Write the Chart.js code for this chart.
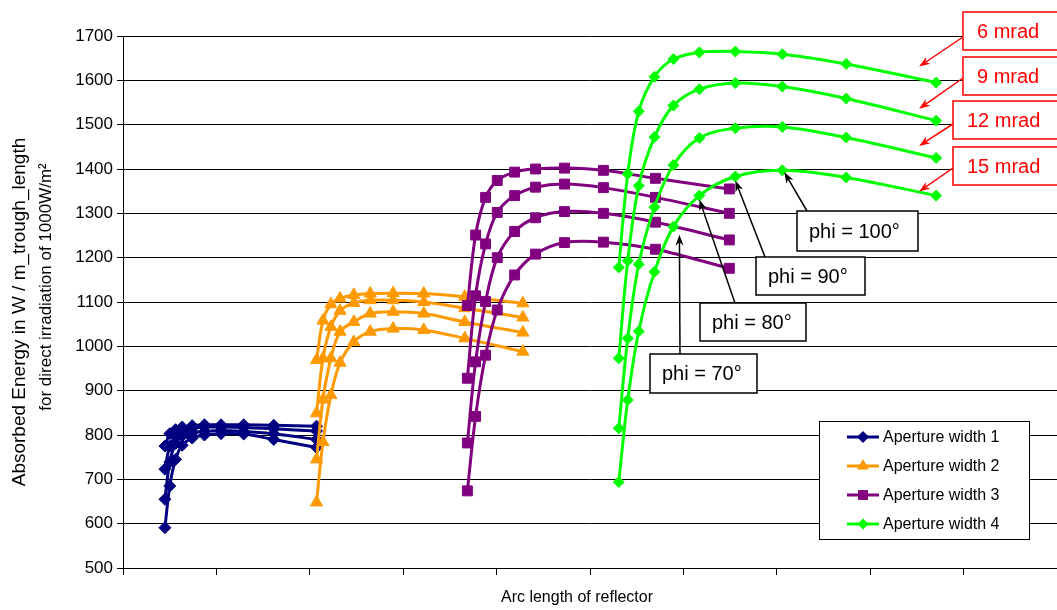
<!DOCTYPE html>
<html>
<head>
<title>Absorbed energy vs arc length of reflector</title>
<script src="https://cdn.jsdelivr.net/npm/chart.js@4.4.0/dist/chart.umd.min.js"></script>
<style>
  body { margin: 0; background: #fff; overflow: hidden; }
  #wrap { width: 1057px; height: 610px; position: relative; }
</style>
</head>
<body>
<div id="wrap"><canvas id="energyChart"></canvas></div>
<script>
// arc length of reflector for each phi step (axis unit = one tick interval)
const arc1 = [0.449, 0.501, 0.563, 0.634, 0.741, 0.872, 1.050, 1.292, 1.614, 2.072];
const arc2 = [2.072, 2.141, 2.226, 2.324, 2.471, 2.647, 2.892, 3.220, 3.659, 4.281];
const arc3 = [3.687, 3.775, 3.882, 4.007, 4.193, 4.417, 4.727, 5.144, 5.701, 6.492];
const arc4 = [5.308, 5.404, 5.522, 5.690, 5.893, 6.171, 6.556, 7.059, 7.743, 8.706];

const errorLabels = ['6 mrad', '9 mrad', '12 mrad', '15 mrad'];

// absorbed energy, rows: 6, 9, 12, 15 mrad
const energy1 = [
  [775, 803, 812, 818, 821, 823, 823, 823, 822, 820],
  [723, 775, 797, 808, 815, 818, 818, 817, 814, 809],
  [655, 739, 781, 798, 805, 808, 810, 808, 803, 790],
  [591, 685, 745, 777, 793, 800, 803, 802, 790, 772]
];
const energy2 = [
  [969, 1058, 1095, 1108, 1116, 1119, 1120, 1119, 1112, 1097],
  [849, 973, 1044, 1080, 1098, 1104, 1104, 1100, 1086, 1065],
  [745, 880, 973, 1033, 1055, 1074, 1078, 1074, 1055, 1031],
  [648, 784, 890, 963, 1010, 1033, 1040, 1037, 1018, 988]
];
const energy3 = [
  [1092, 1251, 1336, 1374, 1393, 1400, 1402, 1397, 1379, 1355],
  [928, 1114, 1231, 1302, 1340, 1359, 1366, 1358, 1336, 1300],
  [782, 965, 1101, 1200, 1259, 1290, 1304, 1300, 1280, 1240],
  [674, 842, 980, 1082, 1161, 1208, 1234, 1235, 1219, 1176]
];
const energy4 = [
  [1178, 1389, 1530, 1608, 1648, 1663, 1665, 1659, 1637, 1595],
  [973, 1193, 1362, 1472, 1543, 1580, 1594, 1586, 1559, 1509],
  [815, 1018, 1185, 1314, 1409, 1470, 1492, 1495, 1471, 1425],
  [694, 879, 1034, 1168, 1270, 1340, 1383, 1397, 1381, 1340]
];

const seriesNames = ['Aperture width 1', 'Aperture width 2', 'Aperture width 3', 'Aperture width 4'];
const seriesColors = ['#000080', '#FF9900', '#800080', '#00FF00'];
const seriesMarkers = ['rectRot', 'triangle', 'rect', 'rectRot'];
const markerSizes = [6, 7, 7, 5.5];

const phiLabels = ['phi = 70°', 'phi = 80°', 'phi = 90°', 'phi = 100°'];
const phiIndex = [4, 5, 6, 7]; // points on the 15 mrad curve of width 4

const yTicks = { min: 500, max: 1700, step: 100 };
const xTitle = 'Arc length of reflector';
const yTitle = ['Absorbed Energy in W / m_trough_length', 'for direct irradiation of 1000W/m²'];

const arcs = [arc1, arc2, arc3, arc4];
const energies = [energy1, energy2, energy3, energy4];

const datasets = [];
arcs.forEach((arc, w) => {
  energies[w].forEach((row, m) => {
    datasets.push({
      label: seriesNames[w] + ' ' + errorLabels[m],
      data: arc.map((x, i) => ({ x: x, y: row[i] })),
      showLine: true,
      borderColor: seriesColors[w],
      backgroundColor: seriesColors[w],
      borderWidth: 3,
      tension: 0.35,
      pointStyle: seriesMarkers[w],
      pointRadius: markerSizes[w],
      pointBorderWidth: 1,
      order: 4 - w
    });
  });
});

// layout of the hand placed notes (pixels)
const phiBoxes = [
  { x: 650, y: 354, w: 107, h: 39, ax: 680, tdx: 6, tdy: 8 },
  { x: 700, y: 303, w: 106, h: 38, ax: 735, tdx: 0, tdy: 4 },
  { x: 756, y: 257, w: 109, h: 38, ax: 765, tdx: 0, tdy: 4 },
  { x: 797, y: 211, w: 121, h: 40, ax: 807, tdx: 2, tdy: 2 }
];
const mradBoxes = [
  { x: 963, y: 12, ay: 37, dy: -16 },
  { x: 963, y: 57, ay: 78, dy: -12 },
  { x: 953, y: 101, ay: 124, dy: -12 },
  { x: 953, y: 147, ay: 168, dy: -4 }
];

function drawMarker(ctx, style, r, x, y, color) {
  ctx.save();
  ctx.fillStyle = color;
  ctx.beginPath();
  if (style === 'rectRot') {
    ctx.moveTo(x, y - r); ctx.lineTo(x + r, y); ctx.lineTo(x, y + r); ctx.lineTo(x - r, y);
  } else if (style === 'rect') {
    const s = r * Math.SQRT1_2;
    ctx.rect(x - s, y - s, 2 * s, 2 * s);
  } else {
    ctx.moveTo(x, y - r);
    ctx.lineTo(x + r * Math.sin(2 * Math.PI / 3), y - r * Math.cos(2 * Math.PI / 3));
    ctx.lineTo(x + r * Math.sin(4 * Math.PI / 3), y - r * Math.cos(4 * Math.PI / 3));
  }
  ctx.closePath();
  ctx.fill();
  ctx.restore();
}

function arrow(ctx, x1, y1, x2, y2, color, width) {
  const a = Math.atan2(y2 - y1, x2 - x1);
  const len = 11, half = 4;
  ctx.save();
  ctx.strokeStyle = color;
  ctx.fillStyle = color;
  ctx.lineWidth = width;
  ctx.beginPath();
  ctx.moveTo(x1, y1);
  ctx.lineTo(x2 - Math.cos(a) * len * 0.7, y2 - Math.sin(a) * len * 0.7);
  ctx.stroke();
  ctx.beginPath();
  ctx.moveTo(x2, y2);
  ctx.lineTo(x2 - Math.cos(a) * len - Math.sin(a) * half, y2 - Math.sin(a) * len + Math.cos(a) * half);
  ctx.lineTo(x2 - Math.cos(a) * len * 0.7, y2 - Math.sin(a) * len * 0.7);
  ctx.lineTo(x2 - Math.cos(a) * len + Math.sin(a) * half, y2 - Math.sin(a) * len - Math.cos(a) * half);
  ctx.closePath();
  ctx.fill();
  ctx.restore();
}

const FONT = '"Liberation Sans", Arial, sans-serif';

const notesPlugin = {
  id: 'notes',
  afterDraw(chart) {
    const ctx = chart.ctx;
    const xs = chart.scales.x, ys = chart.scales.y;

    // axis titles
    ctx.save();
    ctx.fillStyle = '#000';
    ctx.textAlign = 'center';
    ctx.textBaseline = 'middle';
    ctx.font = '16px ' + FONT;
    ctx.fillText(xTitle, 577, 598);
    ctx.translate(20, 312);
    ctx.rotate(-Math.PI / 2);
    ctx.font = '19px ' + FONT;
    ctx.fillText(yTitle[0], 0, 0);
    ctx.font = '17px ' + FONT;
    ctx.fillText(yTitle[1], 25, 26);
    ctx.restore();

    // phi callouts pointing at the 15 mrad curve of width 4
    phiBoxes.forEach((b, k) => {
      const i = phiIndex[k];
      const tx = xs.getPixelForValue(arc4[i]) + b.tdx;
      const ty = ys.getPixelForValue(energy4[3][i]) + b.tdy;
      arrow(ctx, b.ax, b.y, tx, ty, '#000', 1.5);
      ctx.save();
      ctx.fillStyle = '#fff';
      ctx.strokeStyle = '#000';
      ctx.lineWidth = 1.5;
      ctx.fillRect(b.x, b.y, b.w, b.h);
      ctx.strokeRect(b.x, b.y, b.w, b.h);
      ctx.fillStyle = '#000';
      ctx.font = '20px ' + FONT;
      ctx.textBaseline = 'middle';
      ctx.fillText(phiLabels[k], b.x + 12, b.y + b.h / 2 + 1);
      ctx.restore();
    });

    // red error labels pointing at the curve ends of width 4
    mradBoxes.forEach((b, m) => {
      const last = arc4.length - 1;
      const px = xs.getPixelForValue(arc4[last]) - 17;
      const py = ys.getPixelForValue(energy4[m][last]) + b.dy;
      arrow(ctx, b.x, b.ay, px, py, '#FF0000', 1.5);
      ctx.save();
      ctx.fillStyle = '#fff';
      ctx.strokeStyle = '#FF0000';
      ctx.lineWidth = 1.5;
      ctx.fillRect(b.x, b.y, 1057 - b.x + 5, 38);
      ctx.strokeRect(b.x, b.y, 1057 - b.x + 5, 38);
      ctx.fillStyle = '#FF0000';
      ctx.font = '20px ' + FONT;
      ctx.textBaseline = 'middle';
      ctx.fillText(errorLabels[m], b.x + 14, b.y + 20);
      ctx.restore();
    });

    // legend
    ctx.save();
    ctx.fillStyle = '#fff';
    ctx.strokeStyle = '#000';
    ctx.lineWidth = 1;
    ctx.fillRect(819.5, 421.5, 210, 118);
    ctx.strokeRect(819.5, 421.5, 210, 118);
    ctx.font = '16px ' + FONT;
    ctx.textBaseline = 'middle';
    seriesNames.forEach((name, w) => {
      const y = 437 + w * 29;
      ctx.strokeStyle = seriesColors[w];
      ctx.lineWidth = 3;
      ctx.beginPath();
      ctx.moveTo(847, y);
      ctx.lineTo(879, y);
      ctx.stroke();
      drawMarker(ctx, seriesMarkers[w], markerSizes[w], 863, y, seriesColors[w]);
      ctx.fillStyle = '#000';
      ctx.fillText(name, 883, y + 1);
    });
    ctx.restore();
  }
};

Chart.defaults.font.family = FONT;
Chart.defaults.color = '#000';

new Chart(document.getElementById('energyChart'), {
  type: 'scatter',
  data: { datasets: datasets },
  options: {
    responsive: true,
    maintainAspectRatio: false,
    animation: false,
    layout: { autoPadding: false, padding: { top: 36, right: 0, bottom: 0, left: 0 } },
    plugins: {
      legend: { display: false },
      tooltip: { enabled: false }
    },
    scales: {
      x: {
        type: 'linear',
        min: 0,
        max: 10,
        ticks: { display: false, stepSize: 1 },
        grid: { drawOnChartArea: false, drawTicks: true, tickLength: 7, color: '#000' },
        border: { color: '#000', width: 1 },
        afterFit(scale) { scale.height = 42; }
      },
      y: {
        min: yTicks.min,
        max: yTicks.max,
        ticks: {
          stepSize: yTicks.step,
          font: { size: 17 },
          padding: 4,
          color: '#000',
          callback: (v) => String(v)
        },
        grid: { color: '#000', lineWidth: 1, tickLength: 6 },
        border: { color: '#000', width: 1 },
        afterFit(scale) { scale.width = 123; }
      }
    }
  },
  plugins: [notesPlugin]
});
</script>
</body>
</html>
